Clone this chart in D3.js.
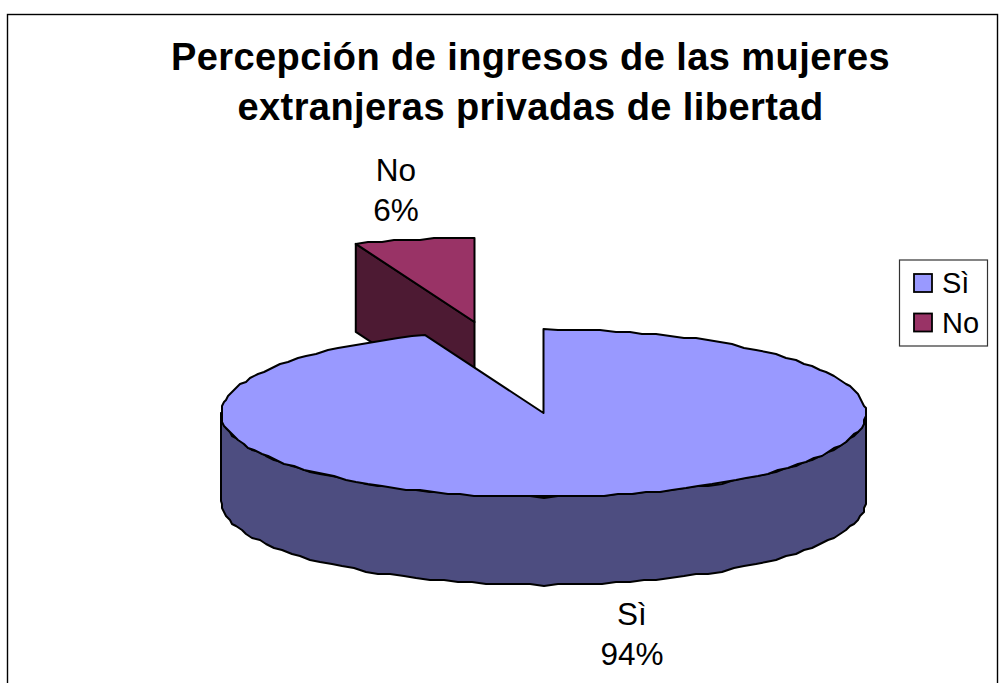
<!DOCTYPE html>
<html><head><meta charset="utf-8">
<script src="https://cdn.jsdelivr.net/npm/d3@7"></script>
<style>html,body{margin:0;padding:0;background:#fff}svg{display:block}text{font-family:"Liberation Sans",Arial,sans-serif;fill:#000}</style>
</head><body><svg id="c" width="1000" height="683"></svg>
<script>
const categories = ["Sì","No"];
const values = [94,6];
const percentLabels = ["94%","6%"];
const titleLines = ["Percepción de ingresos de las mujeres","extranjeras privadas de libertad"];
const topColors = ["#9999ff","#993366"];
const sideColors = ["#4d4d80","#4d1a33"];

const W=1000,H=683;
const svg=d3.select("#c");
const cx=543.5,cy=413,rx=322.5,ry=84,depth=88;
const explode={dx:-69,dy:-91};

svg.append("rect").attr("x",7.5).attr("y",14.5).attr("width",990).attr("height",690)
  .attr("fill","#fff").attr("stroke","#000").attr("stroke-width",1.4);

svg.selectAll("text.title").data(titleLines).join("text").attr("class","title")
  .attr("x",530.5).attr("y",(d,i)=>[69.5,120][i]).attr("text-anchor","middle")
  .attr("font-size",38).attr("letter-spacing",0.43).attr("font-weight","bold").text(d=>d);

const arcs=d3.pie().sort(null).startAngle(0).endAngle(2*Math.PI)(values);
const px=(a,r=1)=>r*rx*Math.sin(a), py=(a,r=1)=>-r*ry*Math.cos(a);
// The reference outline is a coarse polygon snapped to a pixel grid.
const snap=v=>Math.round(v/2)*2;
function arcPts(a0,a1,ox,oy){
  const n=Math.max(2,Math.ceil(Math.abs(a1-a0)/0.045));
  return d3.range(n+1).map(i=>{
    const a=a0+(a1-a0)*i/n;
    const x=ox+px(a),y=oy+py(a);
    return (i===0||i===n)?[x,y]:[snap(x),snap(y)];
  });
}
const line=d3.line();
const stroke={stroke:"#000","stroke-width":2,"stroke-linejoin":"round"};
function draw(pts,fill){
  const p=svg.append("path").attr("d",line(pts)+"Z").attr("fill",fill);
  Object.entries(stroke).forEach(([k,v])=>p.attr(k,v));
}

// exploded slice "No"
{
  const s=arcs[1],ox=cx+explode.dx,oy=cy+explode.dy;
  const A=[ox,oy],B=[ox+px(s.startAngle),oy+py(s.startAngle)];
  draw([A,B,[B[0],B[1]+depth],[A[0],A[1]+depth]],sideColors[1]);
  draw([A,...arcPts(s.startAngle,s.endAngle,ox,oy)],topColors[1]);
}
// main slice "Sì"
{
  const s=arcs[0];
  const front=arcPts(Math.PI/2,Math.min(s.endAngle,3*Math.PI/2),cx,cy);
  draw([...front,...front.slice().reverse().map(p=>[p[0],p[1]+depth])],sideColors[0]);
  draw([[cx,cy],...arcPts(s.startAngle,s.endAngle,cx,cy)],topColors[0]);
}

const labelPos=[{x:632,y0:625,y1:665},{x:396,y0:181,y1:221}];
categories.forEach((c,i)=>{
  svg.append("text").attr("x",labelPos[i].x).attr("y",labelPos[i].y0).attr("text-anchor","middle").attr("font-size",31.5).text(c);
  svg.append("text").attr("x",labelPos[i].x).attr("y",labelPos[i].y1).attr("text-anchor","middle").attr("font-size",31.5).text(percentLabels[i]);
});

svg.append("rect").attr("x",899.5).attr("y",260).attr("width",88).attr("height",86)
  .attr("fill","#fff").attr("stroke","#333").attr("stroke-width",1.2);
const ly=d3.scalePoint().domain(categories).range([283,322.5]);
categories.forEach((c,i)=>{
  svg.append("rect").attr("x",914).attr("y",ly(c)-9).attr("width",18).attr("height",18)
    .attr("fill",topColors[i]).attr("stroke","#000").attr("stroke-width",1.8);
  svg.append("text").attr("x",942).attr("y",ly(c)+10).attr("font-size",29).text(c);
});
</script></body></html>
